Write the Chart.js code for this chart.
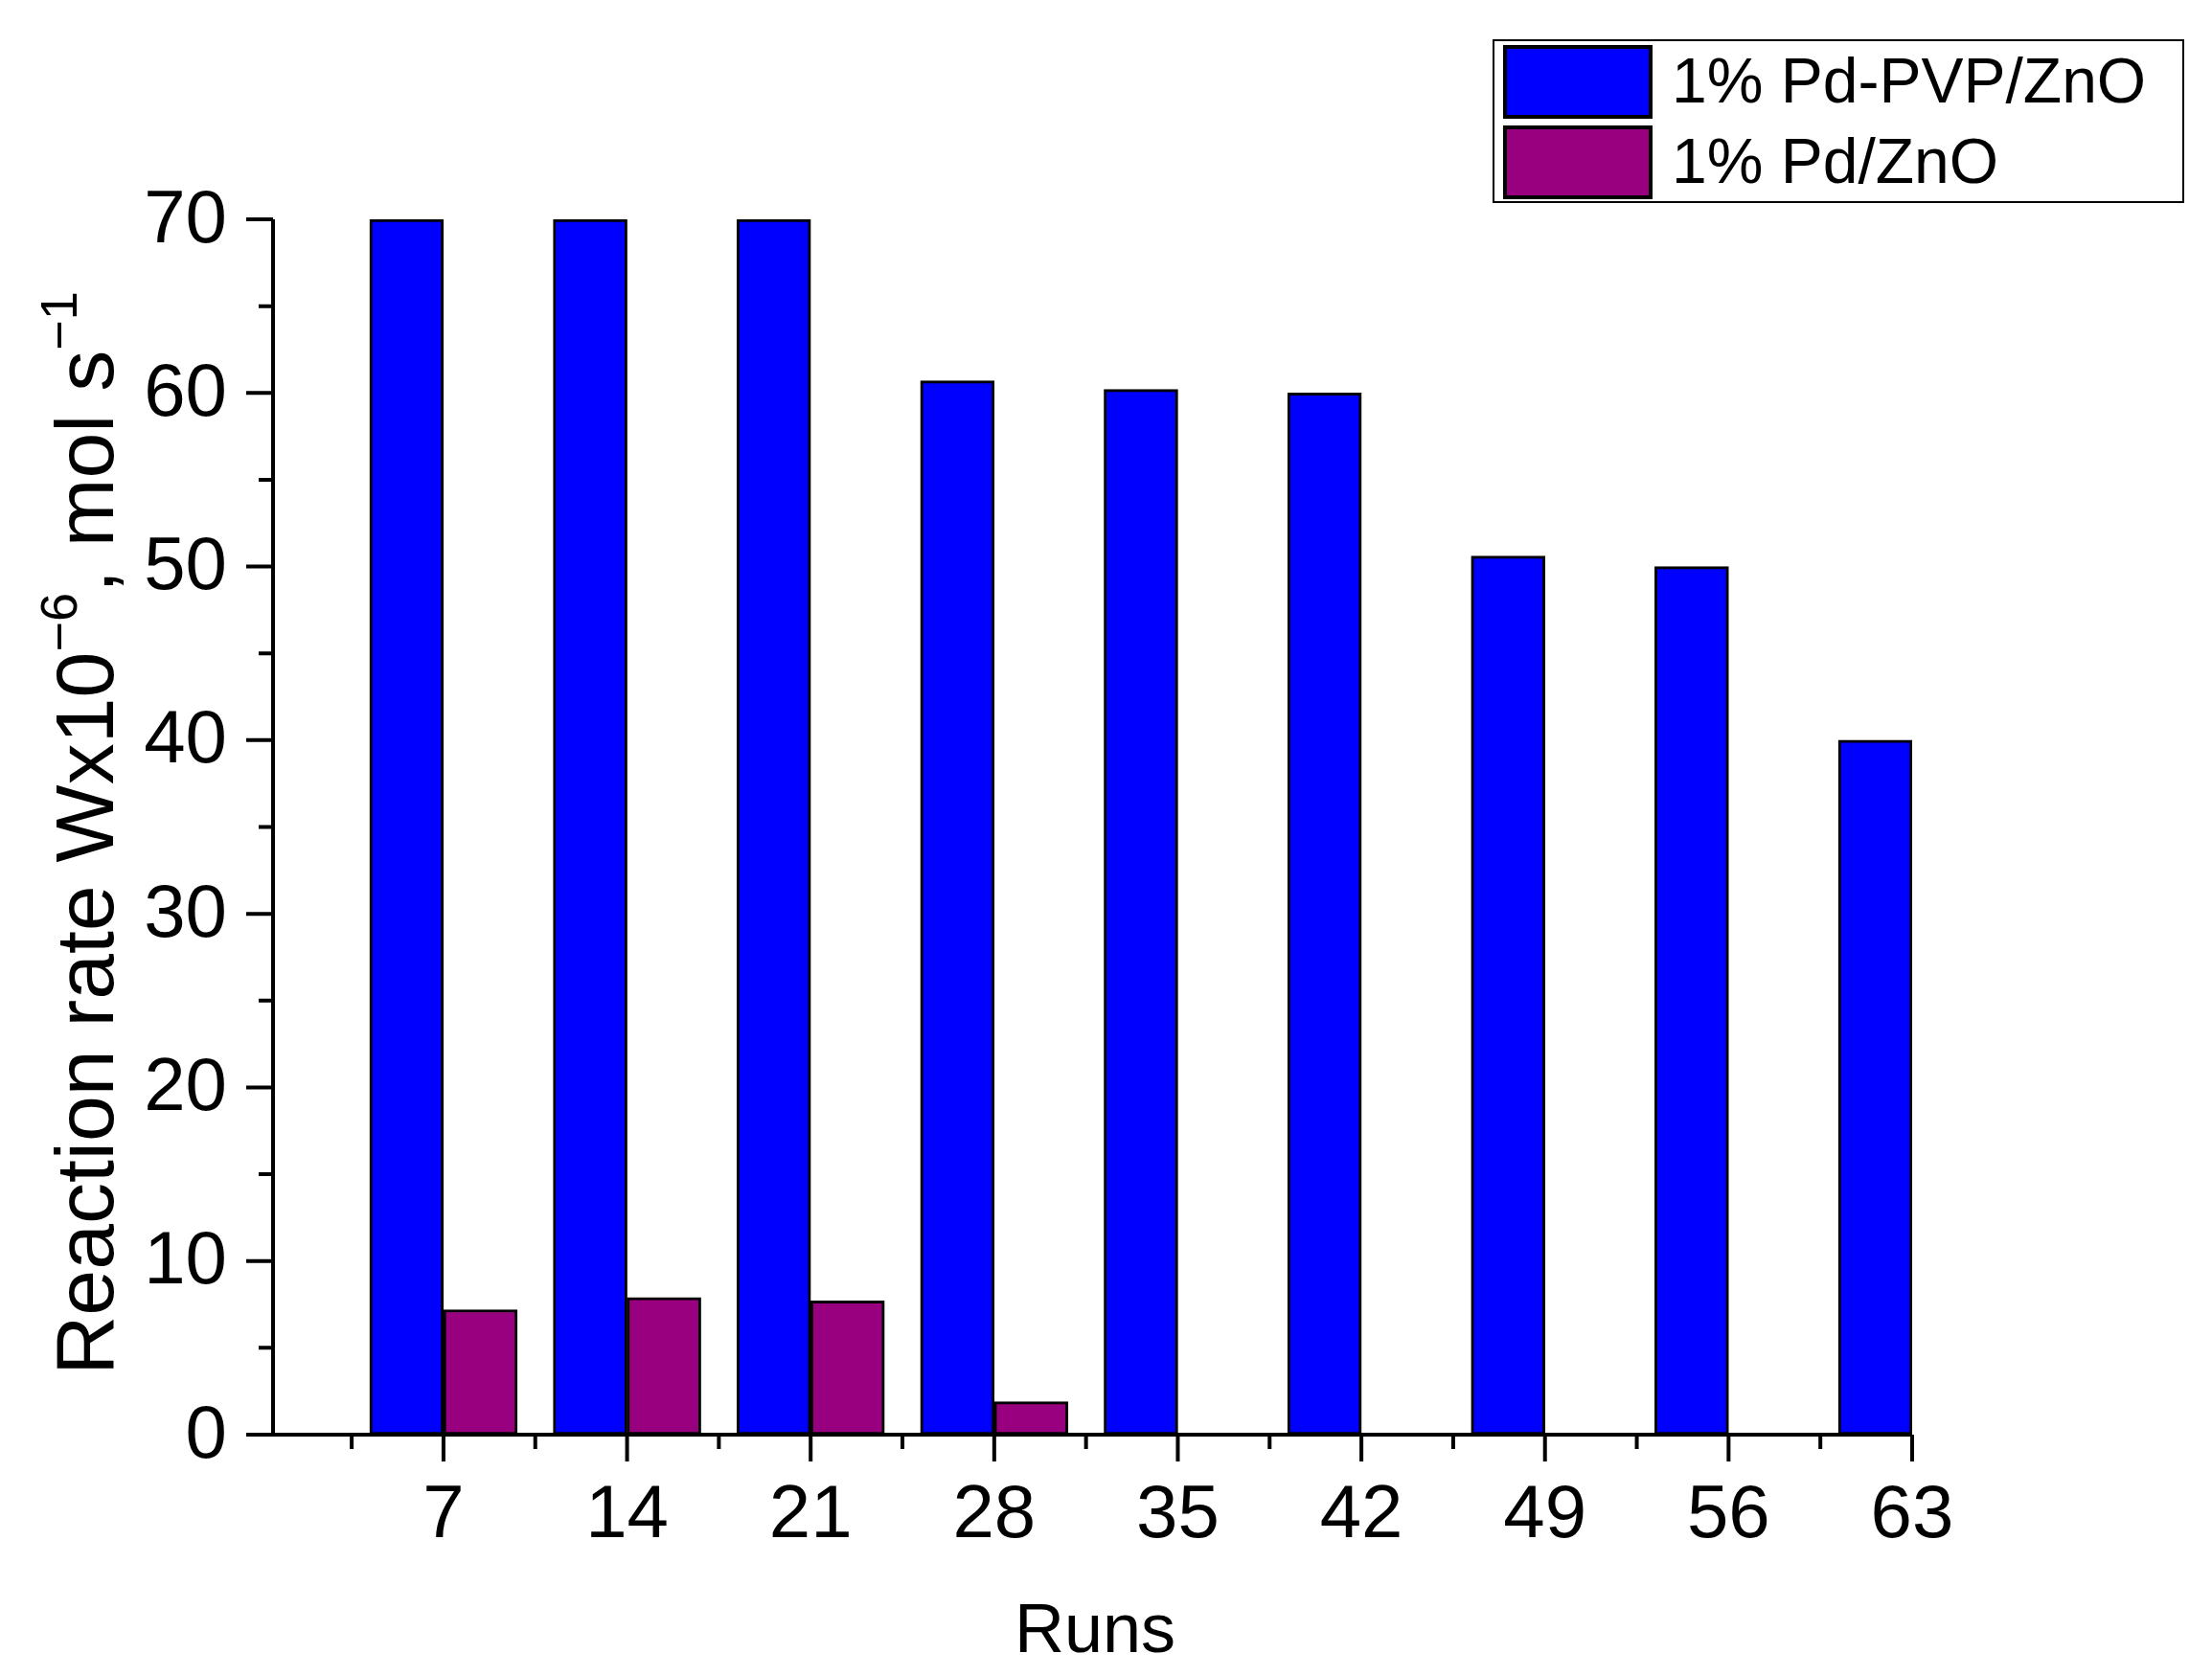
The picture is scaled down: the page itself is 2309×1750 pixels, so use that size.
<!DOCTYPE html>
<html>
<head>
<meta charset="utf-8">
<script src="https://cdn.jsdelivr.net/npm/chart.js@4"></script>
<style>
  html, body { margin: 0; padding: 0; background: #fff; }
  #wrap { width: 2309px; height: 1750px; }
</style>
</head>
<body>
<div id="wrap"><canvas id="chart" width="2309" height="1750"></canvas></div>
<script>
// data
const runs = [7, 14, 21, 28, 35, 42, 49, 56, 63];
const pdPvpZno = [70, 70, 70, 60.7, 60.2, 60, 50.6, 50, 40];
const pdZno = [7.2, 7.9, 7.7, 1.9, 0, 0, 0, 0, 0];
const seriesNames = ['1% Pd-PVP/ZnO', '1% Pd/ZnO'];
const seriesColors = ['#0000ff', '#990080'];
const yTicks = [0, 10, 20, 30, 40, 50, 60, 70];
const yMinor = [5, 15, 25, 35, 45, 55, 65];
const xMinor = [3.5, 10.5, 17.5, 24.5, 31.5, 38.5, 45.5, 52.5, 59.5];

const FONT = '"Liberation Sans", Arial, sans-serif';

// axes, ticks, labels, legend drawn by hand like the Origin plot
const axesPlugin = {
  id: 'originAxes',
  afterDraw(chart) {
    const ctx = chart.ctx;
    const x = chart.scales.x, y = chart.scales.y;
    const area = chart.chartArea;
    ctx.save();
    ctx.strokeStyle = '#000';
    ctx.fillStyle = '#000';
    ctx.lineWidth = 4;
    ctx.beginPath();
    ctx.moveTo(area.left - 28, area.bottom);
    ctx.lineTo(area.right, area.bottom);
    ctx.moveTo(area.left, area.bottom);
    ctx.lineTo(area.left, area.top);
    ctx.stroke();

    // x ticks
    ctx.beginPath();
    runs.forEach(v => { const px = x.getPixelForValue(v); ctx.moveTo(px, area.bottom); ctx.lineTo(px, area.bottom + 28); });
    xMinor.forEach(v => { const px = x.getPixelForValue(v); ctx.moveTo(px, area.bottom); ctx.lineTo(px, area.bottom + 15); });
    // y ticks
    yTicks.forEach(v => { const py = y.getPixelForValue(v); ctx.moveTo(area.left, py); ctx.lineTo(area.left - 28, py); });
    yMinor.forEach(v => { const py = y.getPixelForValue(v); ctx.moveTo(area.left, py); ctx.lineTo(area.left - 15, py); });
    ctx.stroke();

    ctx.font = '78px ' + FONT;
    ctx.textAlign = 'center';
    ctx.textBaseline = 'alphabetic';
    runs.forEach(v => ctx.fillText(String(v), x.getPixelForValue(v), 1605));
    ctx.textAlign = 'right';
    ctx.textBaseline = 'middle';
    yTicks.forEach(v => ctx.fillText(String(v), 237, y.getPixelForValue(v) + 2));

    // x title
    ctx.font = '72px ' + FONT;
    ctx.textAlign = 'center';
    ctx.textBaseline = 'middle';
    ctx.fillText('Runs', 1143, 1705);

    // y title with superscripts
    const parts = [
      ['Reaction rate Wx10', false], ['\u22126', true], [', mol s', false], ['\u22121', true]
    ];
    const big = '86px ' + FONT, small = '54px ' + FONT;
    let total = 0;
    parts.forEach(p => { ctx.font = p[1] ? small : big; total += ctx.measureText(p[0]).width; });
    ctx.translate(118, 870);
    ctx.rotate(-Math.PI / 2);
    ctx.textAlign = 'left';
    ctx.textBaseline = 'alphabetic';
    let cx = -total / 2;
    parts.forEach(p => {
      ctx.font = p[1] ? small : big;
      ctx.fillText(p[0], cx, p[1] ? -38 : 0);
      cx += ctx.measureText(p[0]).width;
    });
    ctx.setTransform(1, 0, 0, 1, 0, 0);

    // legend
    ctx.lineWidth = 2;
    ctx.strokeRect(1559, 42, 720, 169);
    ctx.font = '66px ' + FONT;
    ctx.textAlign = 'left';
    ctx.textBaseline = 'middle';
    seriesNames.forEach((name, i) => {
      const top = 49 + i * 84;
      ctx.fillStyle = seriesColors[i];
      ctx.fillRect(1571, top, 152, 73);
      ctx.lineWidth = 4;
      ctx.strokeRect(1571, top, 152, 73);
      ctx.fillStyle = '#000';
      ctx.fillText(name, 1745, top + 40);
    });
    ctx.restore();
  }
};

new Chart(document.getElementById('chart'), {
  type: 'bar',
  data: {
    datasets: [
      { label: seriesNames[0], data: runs.map((r, i) => ({ x: r, y: pdPvpZno[i] })),
        backgroundColor: seriesColors[0], borderColor: '#000', borderWidth: 3, borderSkipped: false },
      { label: seriesNames[1], data: runs.map((r, i) => ({ x: r, y: pdZno[i] })),
        backgroundColor: seriesColors[1], borderColor: '#000', borderWidth: 3, borderSkipped: false }
    ]
  },
  options: {
    responsive: false,
    animation: false,
    devicePixelRatio: 1,
    layout: { padding: { top: 229, right: 313, left: 0, bottom: 0 } },
    plugins: { legend: { display: false }, tooltip: { enabled: false } },
    datasets: { bar: { barThickness: 77 } },
    scales: {
      x: {
        type: 'linear', min: 0.5, max: 63, offset: false,
        grid: { display: false }, border: { display: false }, ticks: { display: false },
        afterFit(s) { s.height = 252; }
      },
      y: {
        min: 0, max: 70,
        grid: { display: false }, border: { display: false }, ticks: { display: false },
        afterFit(s) { s.width = 285; }
      }
    }
  },
  plugins: [axesPlugin]
});
</script>
</body>
</html>
